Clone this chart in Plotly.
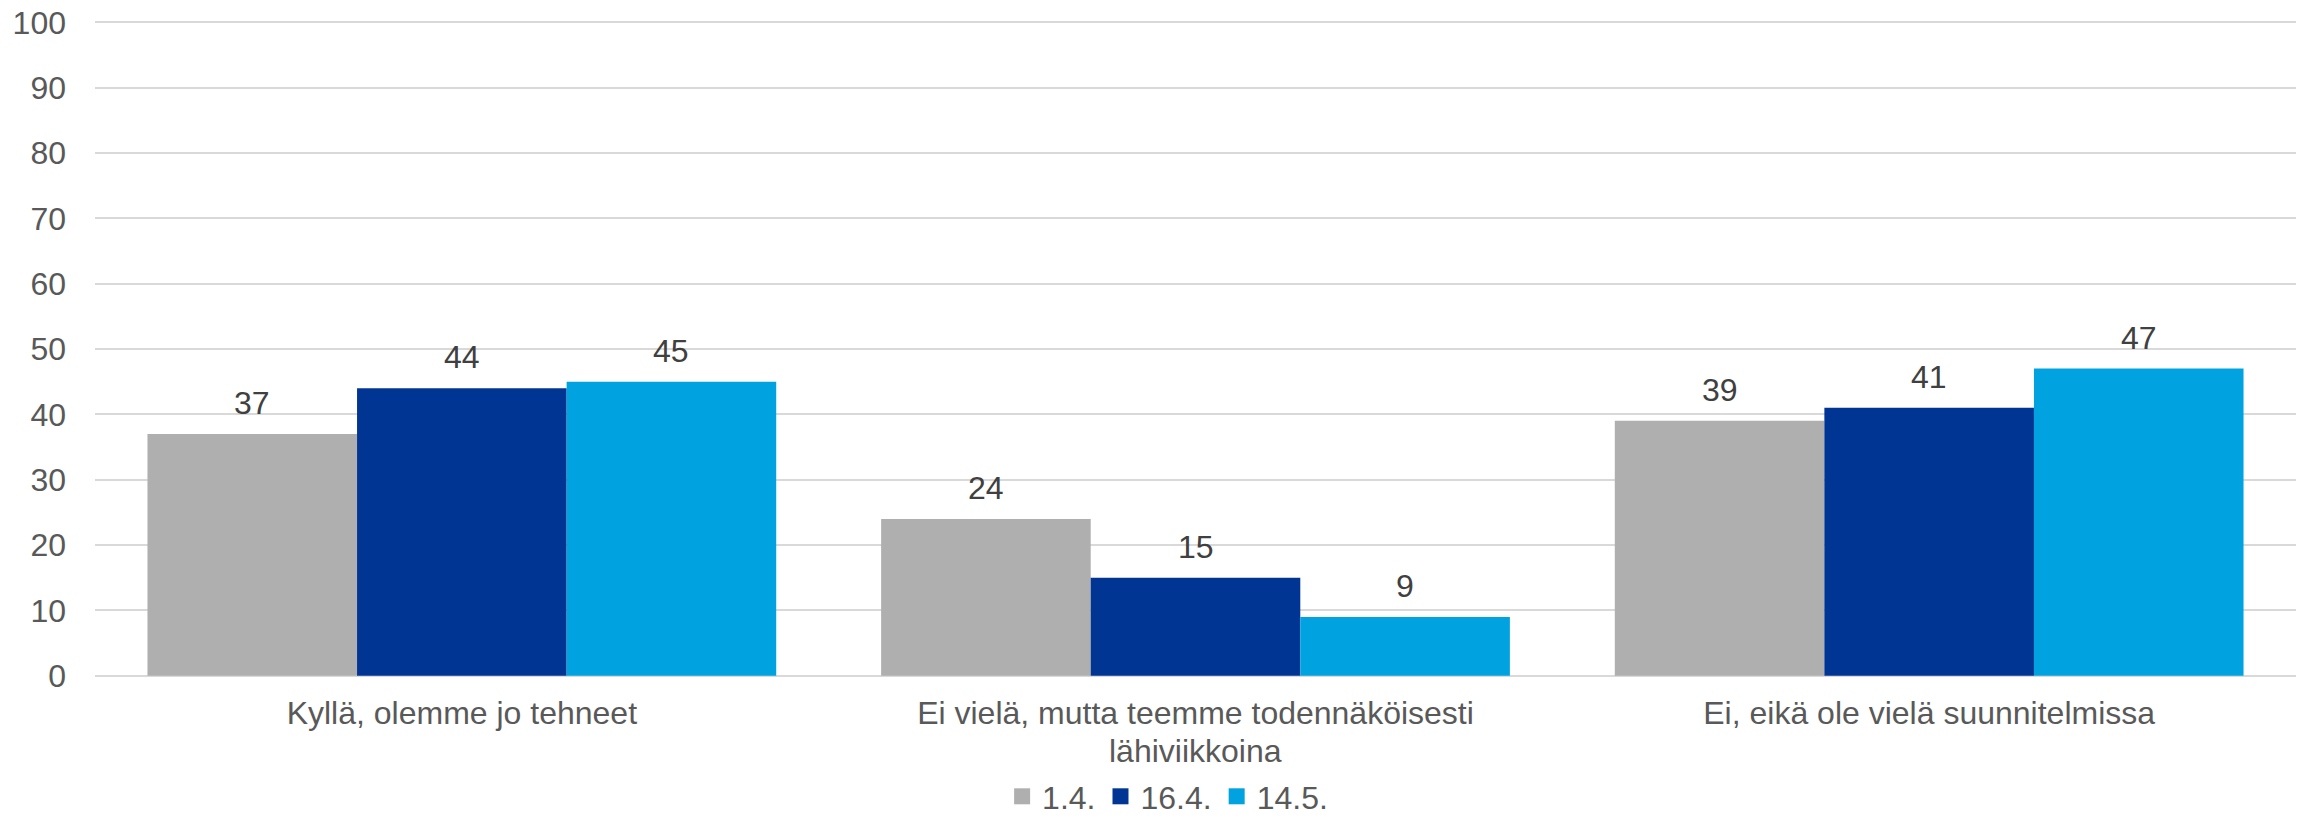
import plotly.graph_objects as go

categories = [
    "Kyllä, olemme jo tehneet",
    "Ei vielä, mutta teemme todennäköisesti<br>lähiviikkoina",
    "Ei, eikä ole vielä suunnitelmissa",
]
series_names = ["1.4.", "16.4.", "14.5."]
values_0104 = [37, 24, 39]
values_1604 = [44, 15, 41]
values_1405 = [45, 9, 47]
colors = ["#AFAFAF", "#003594", "#00A3E0"]
y_ticks = [0, 10, 20, 30, 40, 50, 60, 70, 80, 90, 100]

FONT = "Liberation Sans, Arial, sans-serif"
BARGAP = 0.143
LINE_SPACING = 36  # px between wrapped lines of category labels

series = [values_0104, values_1604, values_1405]

fig = go.Figure()
for name, vals, col in zip(series_names, series, colors):
    fig.add_trace(go.Bar(
        name=name,
        x=categories,
        y=vals,
        marker=dict(color=col, line=dict(width=0)),
        showlegend=False,
    ))

# legend entries (square swatches)
for name, col in zip(series_names, colors):
    fig.add_trace(go.Scatter(
        name=name,
        x=[None],
        y=[None],
        mode="markers",
        marker=dict(symbol="square", size=16, color=col),
        showlegend=True,
    ))

# data labels above the bars
n_series = len(series)
bar_w = (1 - BARGAP) / n_series
for j, vals in enumerate(series):
    for i, v in enumerate(vals):
        fig.add_annotation(
            x=i + (j - (n_series - 1) / 2) * bar_w,
            y=v,
            xref="x",
            yref="y",
            text=str(v),
            showarrow=False,
            yanchor="bottom",
            xanchor="center",
            yshift=11,
            font=dict(family=FONT, size=32, color="#404040"),
        )

# category labels: first line as tick label, further lines below it
first_lines = [c.split("<br>")[0] for c in categories]
for i, c in enumerate(categories):
    extra = c.split("<br>")[1:]
    for k, line in enumerate(extra, start=1):
        fig.add_annotation(
            x=i,
            y=0,
            xref="x",
            yref="paper",
            text=line,
            showarrow=False,
            xanchor="center",
            yanchor="middle",
            yshift=-(38 + k * LINE_SPACING),
            font=dict(family=FONT, size=32, color="#595959"),
        )

fig.update_layout(
    width=2303,
    height=824,
    barmode="group",
    bargap=BARGAP,
    bargroupgap=0,
    plot_bgcolor="white",
    paper_bgcolor="white",
    margin=dict(l=95, r=7, t=21, b=147, autoexpand=False),
    font=dict(family=FONT, size=32, color="#595959"),
    showlegend=True,
    legend=dict(
        orientation="h",
        xref="container",
        yref="container",
        x=0.507,
        xanchor="center",
        y=0,
        yanchor="bottom",
        font=dict(family=FONT, size=32, color="#595959"),
        itemwidth=30,
        traceorder="normal",
    ),
)

fig.update_yaxes(
    range=[-0.2, 100.2],
    tickvals=y_ticks,
    ticktext=[str(t) for t in y_ticks],
    showgrid=True,
    gridcolor="#D9D9D9",
    gridwidth=2,
    zeroline=False,
    showline=False,
    ticks="",
    ticklabelstandoff=28,
    automargin=False,
    tickfont=dict(family=FONT, size=32, color="#595959"),
)
fig.update_xaxes(
    tickvals=categories,
    ticktext=first_lines,
    showgrid=False,
    showline=False,
    zeroline=False,
    ticks="",
    ticklabelstandoff=14,
    automargin=False,
    tickfont=dict(family=FONT, size=32, color="#595959"),
)

fig.write_html(
    "out.html",
    config={"displayModeBar": False},
    post_script="document.body.style.margin='0';document.body.style.overflow='hidden';",
)
